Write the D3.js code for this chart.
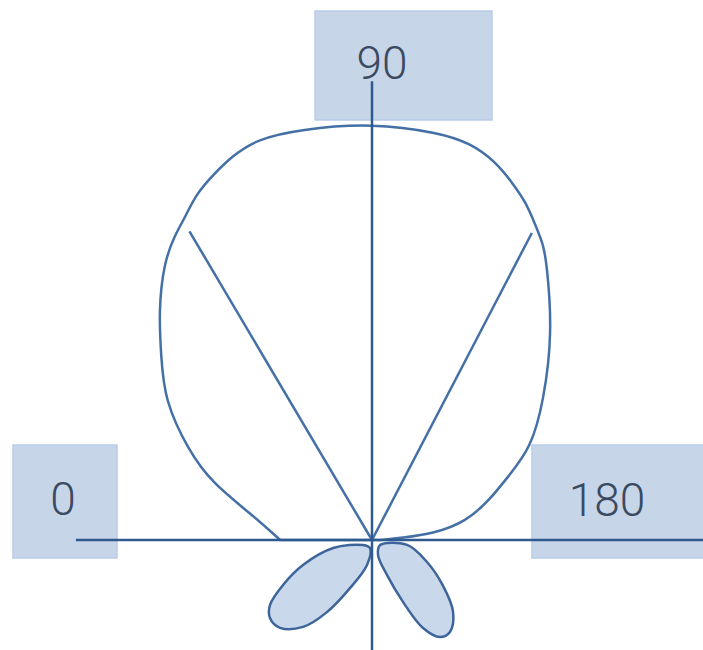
<!DOCTYPE html>
<html>
<head>
<meta charset="utf-8">
<script src="https://cdn.jsdelivr.net/npm/d3@7"></script>
<style>
  body { margin: 0; background: #fff; }
  svg { display: block; }
</style>
</head>
<body>
<div id="chart"></div>
<script>
// polar pattern data, angle in degrees (0 = left, 90 = up, 180 = right), gain relative to max
const mainAngles = [0, 12.5, 19.5, 26, 34, 41, 47, 53, 57, 60, 63, 66.5, 70, 74, 80, 90, 99.5, 104, 108, 111.5, 114.5, 117.5, 120, 122, 131, 141, 150, 155, 161, 169, 174, 176, 180];
const mainGain   = [0.22, 0.30, 0.405, 0.49, 0.60, 0.67, 0.75, 0.83, 0.87, 0.895, 0.93, 0.955, 0.98, 1.00, 1.00, 1.00, 0.99, 0.98, 0.955, 0.92, 0.89, 0.85, 0.82, 0.79, 0.66, 0.53, 0.44, 0.36, 0.30, 0.23, 0.15, 0.07, 0.02];

// back lobes, outline points going round each lobe
const backLeftAngles = [-29, -11.6, -19.9, -26.8, -32.5, -37.4, -43.7, -51.6, -58, -65.4, -78.7, -76];
const backLeftGain   = [0.025, 0.095, 0.176, 0.239, 0.29, 0.308, 0.305, 0.266, 0.204, 0.127, 0.061, 0.02];
const backRightAngles = [212, 188, 201.8, 212.4, 221.6, 229.7, 235, 239.9, 243.4, 246.8, 248.2];
const backRightGain   = [0.023, 0.085, 0.142, 0.20, 0.26, 0.289, 0.284, 0.244, 0.166, 0.091, 0.039];

// beamwidth lines
const beamAngles = [59.4, 117.5];
const beamGain   = [0.86, 0.83];

// axes
const axisAngles = [0, 90, 180, 270];
const axisLength = [0.71, 1.10, 0.80, 0.27];

// label boxes
const labelText = ["0", "90", "180"];

const width = 703, height = 650;
const cx = 372, cy = 540;

const rScale = d3.scaleLinear().domain([0, 1]).range([0, 417]);
// d3 radial angles: 0 = up, clockwise
const aScale = d3.scaleLinear().domain([0, 360]).range([-Math.PI / 2, Math.PI * 1.5]);

const svg = d3.select("#chart").append("svg")
    .attr("width", width)
    .attr("height", height);

// label boxes (drawn first, axes go over them)
const boxes = [
  {x: 13, y: 445, w: 104, h: 113, tx: 63, ty: 499},
  {x: 315, y: 11, w: 177, h: 109, tx: 382, ty: 63},
  {x: 532, y: 445, w: 175, h: 113, tx: 607, ty: 500}
];

svg.append("g").attr("class", "labels")
  .selectAll("rect")
  .data(boxes)
  .enter().append("rect")
    .attr("x", d => d.x)
    .attr("y", d => d.y)
    .attr("width", d => d.w)
    .attr("height", d => d.h)
    .attr("fill", "#c7d5e8")
    .attr("stroke", "#b9cde9")
    .attr("stroke-width", 1.5);

svg.append("g")
  .selectAll("text")
  .data(boxes)
  .enter().append("text")
    .attr("x", d => d.tx)
    .attr("y", d => d.ty)
    .attr("text-anchor", "middle")
    .attr("dominant-baseline", "central")
    .attr("font-family", "Roboto, 'Liberation Sans', sans-serif")
    .attr("font-weight", 300)
    .attr("font-size", 46)
    .attr("fill", "#3a4a60")
    .text((d, i) => labelText[i]);

const g = svg.append("g")
    .attr("transform", "translate(" + cx + "," + cy + ")");

const toPts = (angles, gains) => angles.map((a, i) => [aScale(a), rScale(gains[i])]);

// main lobe (b-spline smooths out the reading noise)
const mainLine = d3.lineRadial().curve(d3.curveBasis);
g.append("path")
    .attr("d", mainLine(toPts(mainAngles, mainGain)) + "Z")
    .attr("fill", "none")
    .attr("stroke", "#4470a6")
    .attr("stroke-width", 2.5);

// back lobes
const lobeLine = d3.lineRadial().curve(d3.curveCatmullRomClosed);
[[backLeftAngles, backLeftGain], [backRightAngles, backRightGain]].forEach(function(l) {
  g.append("path")
      .attr("d", lobeLine(toPts(l[0], l[1])))
      .attr("fill", "#cad8eb")
      .attr("stroke", "#3d659b")
      .attr("stroke-width", 2.5);
});

// beam lines
g.append("g").selectAll("line")
  .data(beamAngles)
  .enter().append("line")
    .attr("x1", 0).attr("y1", 0)
    .attr("x2", (d, i) => d3.pointRadial(aScale(d), rScale(beamGain[i]))[0])
    .attr("y2", (d, i) => d3.pointRadial(aScale(d), rScale(beamGain[i]))[1])
    .attr("stroke", "#4470a6")
    .attr("stroke-width", 2.5);

// axes
g.append("g").selectAll("line")
  .data(axisAngles)
  .enter().append("line")
    .attr("x1", 0).attr("y1", 0)
    .attr("x2", (d, i) => d3.pointRadial(aScale(d), rScale(axisLength[i]))[0])
    .attr("y2", (d, i) => d3.pointRadial(aScale(d), rScale(axisLength[i]))[1])
    .attr("stroke", "#2f5a90")
    .attr("stroke-width", 2.5);
</script>
</body>
</html>
